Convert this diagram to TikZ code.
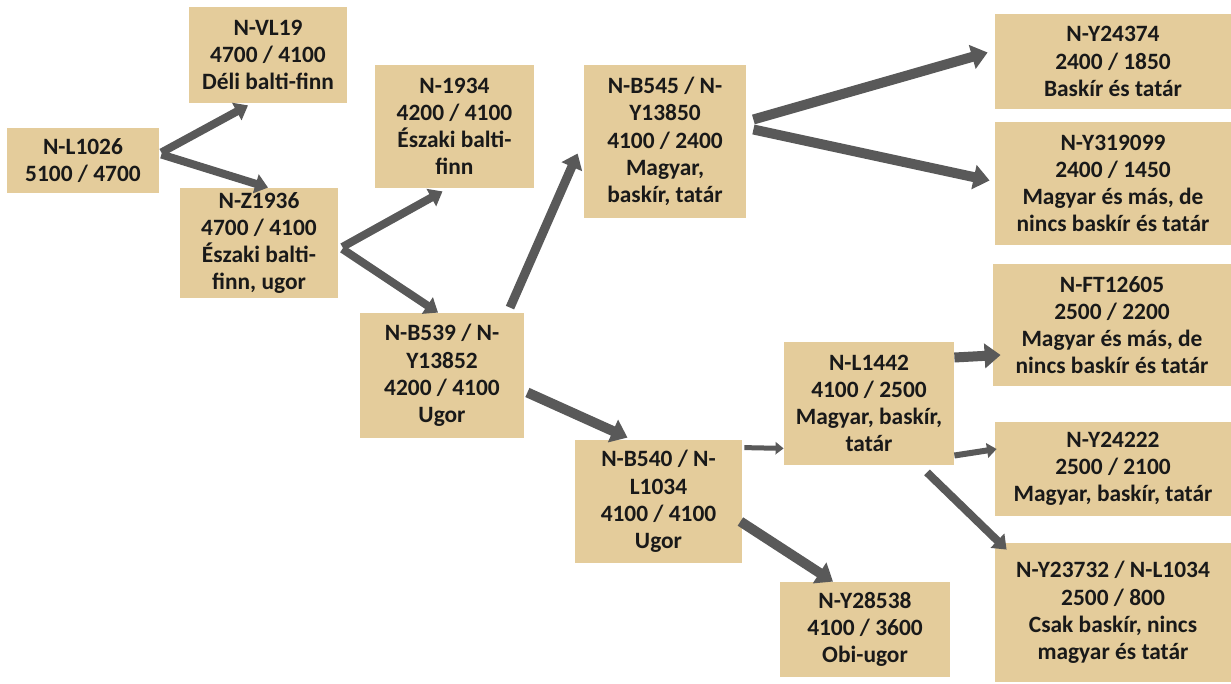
\documentclass[tikz,border=0pt]{standalone}
\usepackage{fontspec}
\setmainfont{Carlito}
\usetikzlibrary{arrows.meta,calc}
\definecolor{parch}{RGB}{228,204,155}
\definecolor{arr}{RGB}{89,89,89}
\tikzset{
  box/.style={fill=parch, draw=none, inner sep=0pt, align=center,
    font=\fontsize{11.7}{13.6}\selectfont\bfseries, text=black!90},
  conn/.style={draw=arr, -{Triangle[length=0pt 1.6, width=0pt 2.4]}},
}
\begin{document}
\begin{tikzpicture}[x=0.5pt, y=-0.5pt]
\useasboundingbox (0,0) rectangle (1231,684);
\node[box, minimum width=76pt, minimum height=32.5pt] (l1026) at (83,160.5) {N-L1026\\5100 / 4700};
\node[box, minimum width=79pt, minimum height=48pt] (vl19) at (268,55) {N-VL19\\4700 / 4100\\Déli balti-finn};
\node[box, minimum width=79pt, minimum height=55pt] (z1936) at (259,243) {N-Z1936\\4700 / 4100\\Északi balti-\\finn, ugor};
\node[box, minimum width=79.5pt, minimum height=61.5pt] (n1934) at (454.5,126.5) {N-1934\\4200 / 4100\\Északi balti-\\finn};
\node[box, minimum width=81pt, minimum height=76.5pt] (b545) at (665,141.5) {N-B545 / N-\\Y13850\\4100 / 2400\\Magyar,\\baskír, tatár};
\node[box, minimum width=82pt, minimum height=62.5pt] (b539) at (442,375.5) {N-B539 / N-\\Y13852\\4200 / 4100\\Ugor};
\node[box, minimum width=83.5pt, minimum height=61.5pt] (b540) at (658.5,501.5) {N-B540 / N-\\L1034\\4100 / 4100\\Ugor};
\node[box, minimum width=85pt, minimum height=61.5pt] (l1442) at (869,403.5) {N-L1442\\4100 / 2500\\Magyar, baskír,\\tatár};
\node[box, minimum width=85pt, minimum height=47.5pt] (y28538) at (865,629.5) {N-Y28538\\4100 / 3600\\Obi-ugor};
\node[box, minimum width=118pt, minimum height=47.5pt] (y24374) at (1113,61.5) {N-Y24374\\2400 / 1850\\Baskír és tatár};
\node[box, minimum width=118pt, minimum height=61.5pt] (y319099) at (1113,183.5) {N-Y319099\\2400 / 1450\\Magyar és más, de\\nincs baskír és tatár};
\node[box, minimum width=119pt, minimum height=61pt] (ft12605) at (1112,325) {N-FT12605\\2500 / 2200\\Magyar és más, de\\nincs baskír és tatár};
\node[box, minimum width=118pt, minimum height=47pt] (y24222) at (1113,469) {N-Y24222\\2500 / 2100\\Magyar, baskír, tatár};
\node[box, minimum width=118pt, minimum height=69.5pt] (y23732) at (1113,612.5) {N-Y23732 / N-L1034\\2500 / 800\\Csak baskír, nincs\\magyar és tatár};

\draw[conn, line width=4pt] ($(l1026.east)+(2,-8)$) -- ($(vl19.south)+(-20,2)$);
\draw[conn, line width=4pt] ($(l1026.east)+(2,-6)$) -- ($(z1936.north)+(9,0)$);
\draw[conn, line width=4pt] ($(z1936.east)+(4,4)$) -- ($(n1934.south)+(-12,3)$);
\draw[conn, line width=4pt] ($(z1936.east)+(4,6)$) -- ($(b539.north)+(-4,0)$);
\draw[conn, line width=4.5pt] ($(b539.north)+(68,-5)$) -- ($(b545.west)+(-6,12)$);
\draw[conn, line width=5pt] ($(b539.east)+(3,17)$) -- ($(b540.north)+(-31,-2)$);
\draw[conn, line width=5pt] ($(b545.east)+(7,-22)$) -- ($(y24374.west)+(-7,-9)$);
\draw[conn, line width=5pt] ($(b545.east)+(7,-12)$) -- ($(y319099.west)+(-5,-3)$);
\draw[conn, line width=2.5pt] ($(b540.north east)+(2,8)$) -- ($(l1442.south west)+(0,-17)$);
\draw[conn, line width=5pt] ($(b540.east)+(-2,20)$) -- ($(y28538.north)+(-32,0)$);
\draw[conn, line width=5pt] ($(l1442.east)+(0,-46)$) -- ($(ft12605.west)+(8,30)$);
\draw[conn, line width=3pt] ($(l1442.east)+(0,52)$) -- ($(y24222.west)+(2,-20)$);
\draw[conn, line width=4pt] ($(l1442.south)+(58,7)$) -- ($(y23732.north west)+(12,7)$);
\end{tikzpicture}
\end{document}
